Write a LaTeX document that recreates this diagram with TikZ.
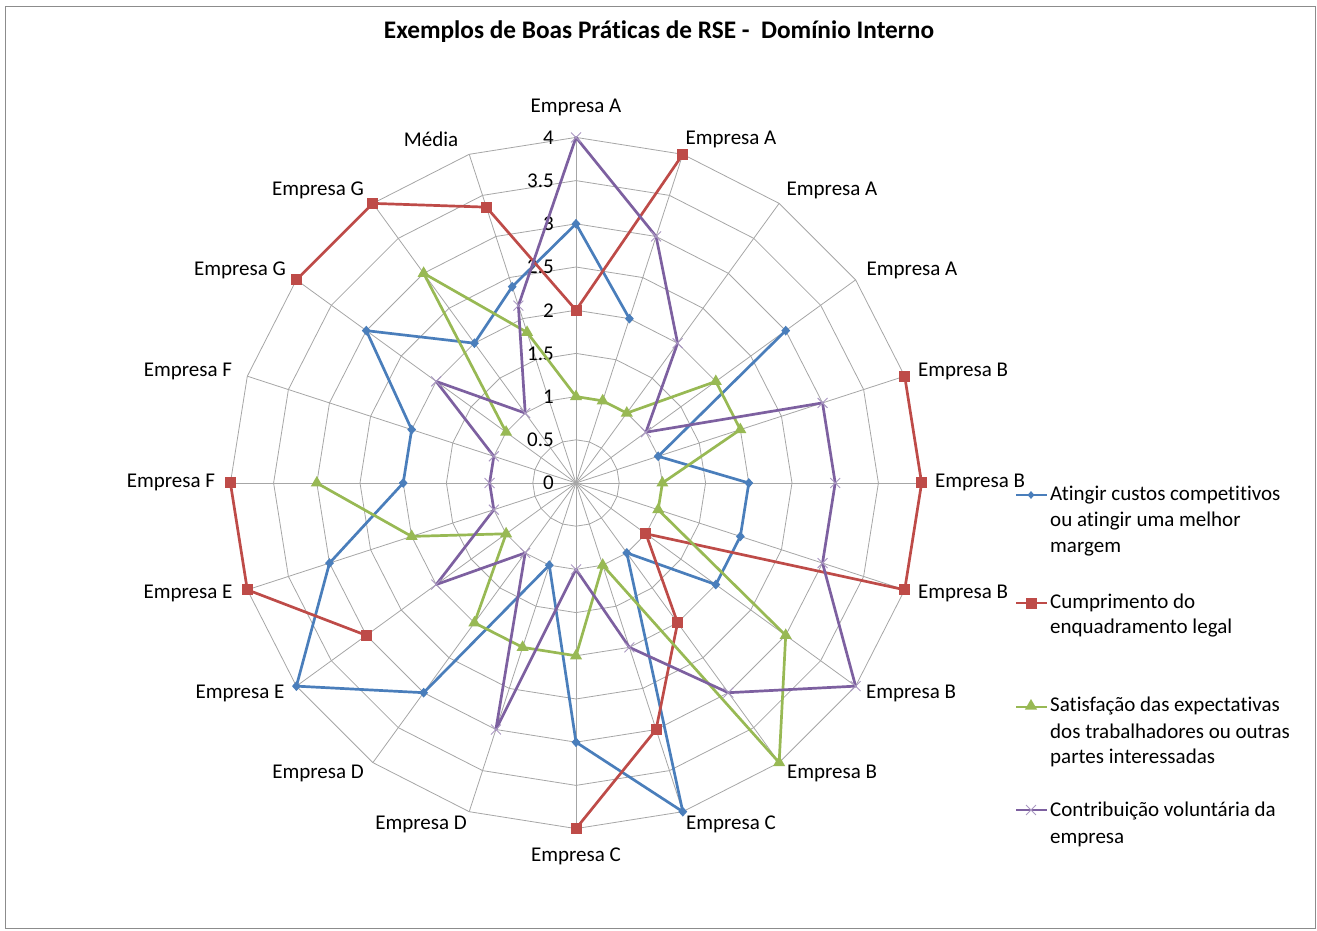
\documentclass[tikz,border=0pt]{standalone}
\usepackage{fontspec}
\setmainfont{Carlito}[Ligatures=NoCommon]
\usetikzlibrary{shapes.geometric,shapes.misc}

\definecolor{serA}{HTML}{4A7EBB}
\definecolor{serB}{HTML}{BE4B48}
\definecolor{serC}{HTML}{98B954}
\definecolor{serD}{HTML}{7D60A0}
\definecolor{gridc}{HTML}{A6A6A6}
\definecolor{framec}{HTML}{8C8C8C}

\begin{document}
\begin{tikzpicture}[x=1pt,y=1pt,
  gridline/.style={draw=gridc,line width=0.8pt},
  serline/.style={line width=2.7pt,line join=round,line cap=round},
  mkA/.style={diamond,fill=serA,inner sep=0pt,minimum width=9pt,minimum height=10pt},
  mkB/.style={rectangle,fill=serB,inner sep=0pt,minimum size=11pt},
  mkC/.style={regular polygon,regular polygon sides=3,fill=serC,inner sep=0pt,minimum size=14pt},
  mkD/.style={cross out,draw=serD!65,line width=0.9pt,inner sep=0pt,minimum size=9pt},
  txt/.style={font=\fontsize{21}{25}\selectfont,inner sep=0pt},
  ticklab/.style={txt,anchor=east},
  legtext/.style={txt,anchor=base west},
]
\useasboundingbox (0,0) rectangle (1317,930);
% chart frame
\draw[framec,line width=1pt] (5,2) rectangle (1315,923);

% title
\node[font=\fontsize{25.3}{30}\selectfont\bfseries,inner sep=0pt] (title) at (659,898)
  {Exemplos de Boas Práticas de RSE -\ \ Domínio Interno};

\def\R{86.4}
\begin{scope}[shift={(576,447)}]
  \coordinate (O) at (0,0);
  % rings
  \foreach \v in {0.5,1,...,4}
    \draw[gridline] (90:\v*\R) \foreach \k in {1,...,19} { -- (90-18*\k:\v*\R) } -- cycle;
  % spokes
  \foreach \k in {0,...,19}
    \draw[gridline] (O) -- (90-18*\k:4*\R);
  % value scale
  \foreach \v/\t [count=\i] in {0/0,0.5/0.5,1/1,1.5/1.5,2/2,2.5/2.5,3/3,3.5/3.5,4/4}
    \node[ticklab] (tick\i) at (-22,\v*\R) {\t};

  % data points
  \foreach \k/\v in {0/3,1/2,3/3,4/1,5/2,6/2,7/2,8/1,9/4,10/3,11/1,12/3,13/4,14/3,15/2,16/2,17/3,18/2,19/2.3889}
    \coordinate (a\k) at (90-18*\k:\v*\R);
  \foreach \k/\v in {0/2,1/4,4/4,5/4,6/4,7/1,8/2,9/3,10/4,13/3,14/4,15/4,17/4,18/4,19/3.3571}
    \coordinate (b\k) at (90-18*\k:\v*\R);
  \foreach \k/\v in {0/1,1/1,2/1,3/2,4/2,5/1,6/1,7/3,8/4,9/1,10/2,11/2,12/2,13/1,14/2,15/3,17/1,18/3,19/1.8333}
    \coordinate (c\k) at (90-18*\k:\v*\R);
  \foreach \k/\v in {0/4,1/3,2/2,3/1,4/3,5/3,6/3,7/4,8/3,9/2,10/1,11/3,12/1,13/2,14/1,15/1,16/1,17/2,18/1,19/2.1579}
    \coordinate (d\k) at (90-18*\k:\v*\R);
\end{scope}

% series 1: Atingir custos competitivos
\draw[serline,serA] (a3) -- (a4) -- (a5) -- (a6) -- (a7) -- (a8) -- (a9) -- (a10) -- (a11)
  -- (a12) -- (a13) -- (a14) -- (a15) -- (a16) -- (a17) -- (a18) -- (a19) -- (a0) -- (a1);
\foreach \k in {0,1,3,4,5,6,7,8,9,10,11,12,13,14,15,16,17,18,19}
  \node[mkA] (ma\k) at (a\k) {};

% series 2: Cumprimento do enquadramento legal
\draw[serline,serB] (b17) -- (b18) -- (b19) -- (b0) -- (b1);
\draw[serline,serB] (b4) -- (b5) -- (b6) -- (b7) -- (b8) -- (b9) -- (b10);
\draw[serline,serB] (b13) -- (b14) -- (b15);
\foreach \k in {0,1,4,5,6,7,8,9,10,13,14,15,17,18,19}
  \node[mkB] (mb\k) at (b\k) {};

% series 3: Satisfacao das expectativas
\draw[serline,serC] (c17) -- (c18) -- (c19) -- (c0) -- (c1) -- (c2) -- (c3) -- (c4) -- (c5)
  -- (c6) -- (c7) -- (c8) -- (c9) -- (c10) -- (c11) -- (c12) -- (c13) -- (c14) -- (c15);
\foreach \k in {0,1,2,3,4,5,6,7,8,9,10,11,12,13,14,15,17,18,19}
  \node[mkC] (mc\k) at (c\k) {};

% series 4: Contribuicao voluntaria
\draw[serline,serD] (d0) -- (d1) -- (d2) -- (d3) -- (d4) -- (d5) -- (d6) -- (d7) -- (d8) -- (d9)
  -- (d10) -- (d11) -- (d12) -- (d13) -- (d14) -- (d15) -- (d16) -- (d17) -- (d18) -- (d19) -- cycle;
\foreach \k in {0,...,19}
  \node[mkD] (md\k) at (d\k) {};

% category labels
\node[txt] (lab0)  at (576,823) {Empresa A};
\node[txt] (lab1)  at (731,791) {Empresa A};
\node[txt] (lab2)  at (832,740) {Empresa A};
\node[txt] (lab3)  at (912,660) {Empresa A};
\node[txt] (lab4)  at (963,559) {Empresa B};
\node[txt] (lab5)  at (980,448) {Empresa B};
\node[txt] (lab6)  at (963,337) {Empresa B};
\node[txt] (lab7)  at (911,237) {Empresa B};
\node[txt] (lab8)  at (832,157) {Empresa B};
\node[txt] (lab9)  at (731,106) {Empresa C};
\node[txt] (lab10) at (576,74)  {Empresa C};
\node[txt] (lab11) at (421,106) {Empresa D};
\node[txt] (lab12) at (318,157) {Empresa D};
\node[txt] (lab13) at (240,237) {Empresa E};
\node[txt] (lab14) at (188,337) {Empresa E};
\node[txt] (lab15) at (171,448) {Empresa F};
\node[txt] (lab16) at (188,559) {Empresa F};
\node[txt] (lab17) at (240,660) {Empresa G};
\node[txt] (lab18) at (318,740) {Empresa G};
\node[txt] (lab19) at (431,791) {Média};

% legend
\coordinate (lgA1) at (1016,435); \coordinate (lgA2) at (1047,435);
\coordinate (lgB1) at (1016,327); \coordinate (lgB2) at (1047,327);
\coordinate (lgC1) at (1016,223); \coordinate (lgC2) at (1047,223);
\coordinate (lgD1) at (1016,120); \coordinate (lgD2) at (1047,120);
\draw[serline,serA,line cap=butt] (lgA1) -- (lgA2);
\node[mkA,minimum width=7pt,minimum height=8pt] (lgmA) at (1031,435) {};
\draw[serline,serB,line cap=butt] (lgB1) -- (lgB2);
\node[mkB] (lgmB) at (1031,327) {};
\draw[serline,serC,line cap=butt] (lgC1) -- (lgC2);
\node[mkC] (lgmC) at (1031,224) {};
\draw[serline,serD,line cap=butt] (lgD1) -- (lgD2);
\node[mkD] (lgmD) at (1031,120) {};

\node[legtext] (lgA-1) at (1050,429) {Atingir custos competitivos};
\node[legtext] (lgA-2) at (1050,403) {ou atingir uma melhor};
\node[legtext] (lgA-3) at (1050,377) {margem};
\node[legtext] (lgB-1) at (1050,322) {Cumprimento do};
\node[legtext] (lgB-2) at (1050,297) {enquadramento legal};
\node[legtext] (lgC-1) at (1050,219) {Satisfação das expectativas};
\node[legtext] (lgC-2) at (1050,192) {dos trabalhadores ou outras};
\node[legtext] (lgC-3) at (1050,167) {partes interessadas};
\node[legtext] (lgD-1) at (1050,114) {Contribuição voluntária da};
\node[legtext] (lgD-2) at (1050,87)  {empresa};
\end{tikzpicture}
\end{document}
